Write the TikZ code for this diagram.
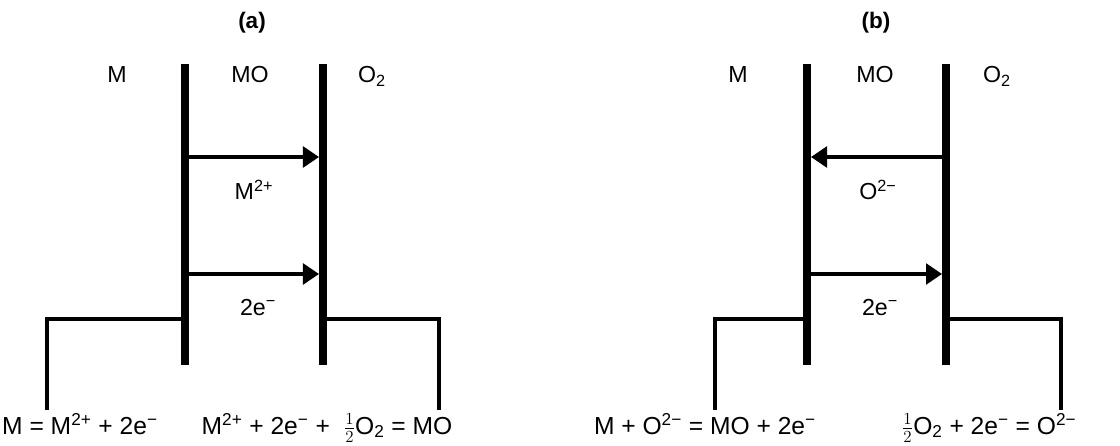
\documentclass[tikz,border=0pt]{standalone}
\usepackage{fontspec}
\setmainfont{Liberation Sans}
\usetikzlibrary{arrows.meta}
\newcommand{\halfO}{$\frac{1}{2}$O\textsubscript{2}}

\begin{document}
\begin{tikzpicture}[x=0.025cm, y=-0.025cm]
    \tikzstyle{bar}=[line width=0.2cm]
    \tikzstyle{lead}=[line width=2.5pt, line join=miter]
    \tikzstyle{flux}=[line width=2.2pt, -{Triangle[length=0.4cm,width=0.52cm]}]
    \tikzstyle{lbl}=[anchor=base, inner sep=0pt, font=\fontsize{16.5}{19}\selectfont]
    \tikzstyle{eqn}=[anchor=base, inner sep=0pt, font=\fontsize{17.5}{20}\selectfont]

    \useasboundingbox (0,0) rectangle (1120,446);

    % panel (a)
    \node [lbl, font=\fontsize{16}{19}\selectfont\bfseries] (ta) at (252,29) {(a)};
    \node [lbl] (ma) at (117,83) {M};
    \node [lbl] (moa) at (250,83) {MO};
    \node [lbl] (oa) at (372,83) {O\textsubscript{2}};

    \coordinate (a1t) at (185,64);
    \coordinate (a1b) at (185,365);
    \coordinate (a2t) at (323,64);
    \coordinate (a2b) at (323,365);
    \draw [bar] (a1t) -- (a1b);
    \draw [bar] (a2t) -- (a2b);

    \coordinate (a1u) at (185,157);
    \coordinate (a2u) at (319,157);
    \coordinate (a1d) at (185,274);
    \coordinate (a2d) at (319,274);
    \draw [flux] (a1u) -- (a2u);
    \draw [flux] (a1d) -- (a2d);
    \node [lbl] (iona) at (254,200) {M\textsuperscript{2+}};
    \node [lbl] (ela) at (258,315) {2e\textsuperscript{−}};

    \coordinate (a1j) at (185,319);
    \coordinate (a2j) at (323,319);
    \coordinate (a1l) at (47,410);
    \coordinate (a2l) at (439,410);
    \draw [lead] (a1j) -| (a1l);
    \draw [lead] (a2j) -| (a2l);

    \node [eqn] (eqa1) at (80,434) {M = M\textsuperscript{2+} + 2e\textsuperscript{−}};
    \node [eqn] (eqa2) at (327,434) {M\textsuperscript{2+} + 2e\textsuperscript{−} + \ \halfO{} = MO};

    % panel (b)
    \node [lbl, font=\fontsize{16}{19}\selectfont\bfseries] (tb) at (876,29) {(b)};
    \node [lbl] (mb) at (738,83) {M};
    \node [lbl] (mob) at (875,83) {MO};
    \node [lbl] (ob) at (997,83) {O\textsubscript{2}};

    \coordinate (b1t) at (807,64);
    \coordinate (b1b) at (807,365);
    \coordinate (b2t) at (946,64);
    \coordinate (b2b) at (946,365);
    \draw [bar] (b1t) -- (b1b);
    \draw [bar] (b2t) -- (b2b);

    \coordinate (b1u) at (811,157);
    \coordinate (b2u) at (946,157);
    \coordinate (b1d) at (807,274);
    \coordinate (b2d) at (942,274);
    \draw [flux] (b2u) -- (b1u);
    \draw [flux] (b1d) -- (b2d);
    \node [lbl] (ionb) at (878,200) {O\textsuperscript{2−}};
    \node [lbl] (elb) at (880,315) {2e\textsuperscript{−}};

    \coordinate (b1j) at (807,319);
    \coordinate (b2j) at (946,319);
    \coordinate (b1l) at (715,410);
    \coordinate (b2l) at (1061,410);
    \draw [lead] (b1j) -| (b1l);
    \draw [lead] (b2j) -| (b2l);

    \node [eqn] (eqb1) at (705,434) {M + O\textsuperscript{2−} = MO + 2e\textsuperscript{−}};
    \node [eqn] (eqb2) at (989,434) {\halfO{} + 2e\textsuperscript{−} = O\textsuperscript{2−}};
\end{tikzpicture}
\end{document}
